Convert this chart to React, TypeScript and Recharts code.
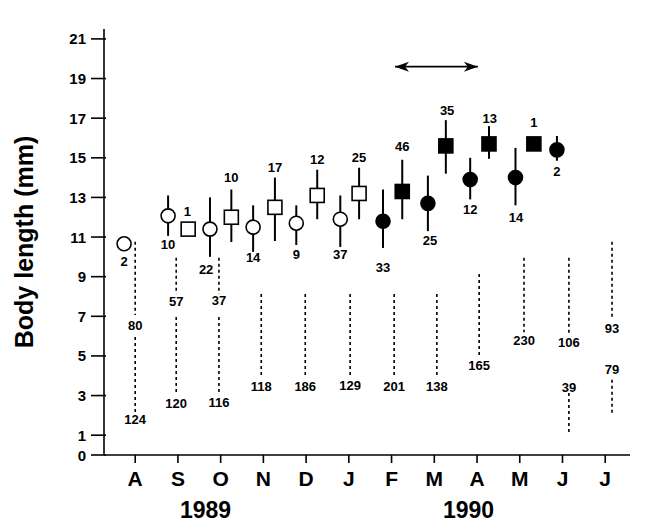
import { ComposedChart, Scatter, XAxis, YAxis, ErrorBar, ReferenceLine, Label } from "recharts";

if (typeof document !== "undefined") document.body.style.margin = "0";

const FONT = "'Liberation Sans', Arial, sans-serif";

// x in months from August 1989 (0 = A, 1 = S, ...), y = body length (mm)
const monthTicks = [0, 1, 2, 3, 4, 5, 6, 7, 8, 9, 10, 11];
const monthLabels = ["A", "S", "O", "N", "D", "J", "F", "M", "A", "M", "J", "J"];
const yTicks = [0, 1, 3, 5, 7, 9, 11, 13, 15, 17, 19, 21];

// [m, mean, low, high]
const openCircles = [
  [-0.26, 10.66, 10.66, 10.66],
  [0.77, 12.07, 11.06, 13.1],
  [1.75, 11.4, 10.0, 13.0],
  [2.76, 11.5, 10.25, 12.6],
  [3.77, 11.7, 10.6, 12.6],
  [4.8, 11.9, 10.5, 13.1],
];
const openSquares = [
  [1.24, 11.4, 11.4, 11.4],
  [2.25, 12.0, 10.75, 13.4],
  [3.27, 12.5, 10.8, 14.0],
  [4.26, 13.1, 11.9, 14.4],
  [5.24, 13.2, 11.9, 14.5],
];
const filledCircles = [
  [5.8, 11.8, 10.45, 13.4],
  [6.85, 12.7, 11.3, 14.1],
  [7.84, 13.9, 12.9, 15.0],
  [8.9, 14.0, 12.6, 15.5],
  [9.87, 15.4, 14.85, 16.1],
];
const filledSquares = [
  [6.25, 13.3, 11.9, 14.9],
  [7.27, 15.6, 14.2, 16.9],
  [8.28, 15.7, 14.95, 16.6],
  [9.33, 15.7, 15.7, 15.7],
];

// sample sizes beside the markers: [m, y, n]
const markerCounts = [
  [-0.26, 9.75, 2], [0.77, 10.6, 10], [1.22, 12.3, 1], [1.66, 9.35, 22],
  [2.25, 14.0, 10], [2.76, 9.95, 14], [3.27, 14.5, 17], [3.77, 10.1, 9],
  [4.26, 14.9, 12], [4.8, 10.1, 37], [5.24, 15.0, 25], [5.8, 9.45, 33],
  [6.25, 15.55, 46], [6.9, 10.85, 25], [7.3, 17.4, 35], [7.84, 12.4, 12],
  [8.3, 17.0, 13], [8.91, 11.97, 14], [9.33, 16.8, 1], [9.87, 14.3, 2],
];

// dotted size ranges: [m, from, to]
const dottedRanges = [
  [0, 10.76, 7.07], [0, 5.96, 2.17],
  [0.96, 9.95, 8.13], [0.96, 6.97, 3.13],
  [1.96, 9.95, 8.13], [1.96, 6.97, 3.13],
  [2.95, 8.13, 3.94], [3.98, 8.13, 3.94], [5.03, 8.13, 3.94],
  [6.06, 8.13, 3.94], [7.06, 8.13, 3.94],
  [8.05, 9.14, 5.0], [9.1, 9.95, 6.2],
  [10.15, 9.95, 6.16], [10.15, 3.13, 1.1],
  [11.16, 10.76, 6.9], [11.16, 3.8, 2.0],
];
const dottedCounts = [
  [0, 6.55, 80], [0, 1.77, 124],
  [0.96, 7.73, 57], [0.96, 2.58, 120],
  [1.96, 7.78, 37], [1.96, 2.63, 116],
  [2.95, 3.48, 118], [3.98, 3.48, 186], [5.03, 3.53, 129],
  [6.06, 3.48, 201], [7.06, 3.48, 138], [8.05, 4.5, 165],
  [9.1, 5.76, 230], [10.15, 5.66, 106], [10.15, 3.43, 39],
  [11.16, 6.4, 93], [11.16, 4.34, 79],
];

const arrow = [
  { m: 6.08, v: 19.6, dir: -1 },
  { m: 8.02, v: 19.6, dir: 1 },
];

const toPts = (rows: number[][]) =>
  rows.map(([m, v, lo, hi]) => ({ m, v, err: [v - lo, hi - v] }));
const toText = (rows: number[][]) => rows.map(([m, v, n]) => ({ m, v, n }));

const circle = (fill: string) => (p: any) => (
  <circle cx={p.cx} cy={p.cy} r={7} fill={fill} stroke="#000" strokeWidth={1.6} />
);
const square = (fill: string) => (p: any) => (
  <rect x={p.cx - 7} y={p.cy - 7} width={14} height={14} fill={fill} stroke="#000" strokeWidth={1.6} />
);
const countText = (p: any) => (
  <text x={p.cx} y={p.cy} textAnchor="middle" dominantBaseline="central"
    fontFamily={FONT} fontWeight="bold" fontSize={13} fill="#000">
    {p.payload.n}
  </text>
);
const arrowHead = (p: any) => {
  const d = p.payload.dir;
  const x = p.cx, y = p.cy;
  return (
    <path d={`M${x},${y} L${x - d * 14},${y - 5} L${x - d * 10},${y} L${x - d * 14},${y + 5} Z`} fill="#000" />
  );
};

const yTick = (p: any) => (
  <g>
    <line x1={p.x - 1} x2={p.x + 14} y1={p.y} y2={p.y} stroke="#000" strokeWidth={1.6} />
    <text x={p.x - 6} y={p.y} textAnchor="end" dominantBaseline="central"
      fontFamily={FONT} fontWeight="bold" fontSize={15} fill="#000">{p.payload.value}</text>
  </g>
);

const err = <ErrorBar dataKey="err" direction="y" width={0} stroke="#000" strokeWidth={2} />;

export default function App() {
  return (
    <div style={{ position: "relative", width: 653, height: 523, background: "#fff" }}>
      <ComposedChart width={653} height={523} margin={{ top: 29, right: 23, bottom: 8, left: 0 }}>
        <XAxis type="number" dataKey="m" domain={[-0.73, 11.58]} ticks={monthTicks} interval={0}
          tickFormatter={(t: number) => monthLabels[t]} allowDataOverflow
          stroke="#000" strokeWidth={1.6} tickSize={8} height={60}
          tick={{ fill: "#000", fontSize: 21, fontWeight: "bold", fontFamily: FONT, dy: 6 }} />
        <YAxis type="number" dataKey="v" domain={[0, 21.5]} ticks={yTicks} interval={0} allowDataOverflow
          stroke="#000" strokeWidth={1.6} tickSize={10} width={104} tickLine={false}
          tick={yTick}>
          <Label value="Body length (mm)" angle={-90} position="insideLeft" offset={24}
            style={{ textAnchor: "middle", fontSize: 25, fontWeight: "bold", fontFamily: FONT, fill: "#000" }} />
        </YAxis>
        {dottedRanges.map(([m, a, b], i) => (
          <ReferenceLine key={i} segment={[{ x: m, y: a }, { x: m, y: b }]}
            stroke="#000" strokeWidth={1.6} strokeDasharray="3 3" />
        ))}
        <Scatter data={toPts(openCircles)} shape={circle("#fff")} isAnimationActive={false}>{err}</Scatter>
        <Scatter data={toPts(openSquares)} shape={square("#fff")} isAnimationActive={false}>{err}</Scatter>
        <Scatter data={toPts(filledCircles)} shape={circle("#000")} isAnimationActive={false}>{err}</Scatter>
        <Scatter data={toPts(filledSquares)} shape={square("#000")} isAnimationActive={false}>{err}</Scatter>
        <Scatter data={toText(markerCounts)} shape={countText} isAnimationActive={false} />
        <Scatter data={toText(dottedCounts)} shape={countText} isAnimationActive={false} />
        <Scatter data={arrow} shape={arrowHead} line={{ stroke: "#000", strokeWidth: 1.6 }} isAnimationActive={false} />
      </ComposedChart>
      <div style={{ position: "absolute", left: 180, top: 497, fontFamily: FONT, fontWeight: "bold", fontSize: 23 }}>1989</div>
      <div style={{ position: "absolute", left: 443, top: 497, fontFamily: FONT, fontWeight: "bold", fontSize: 23 }}>1990</div>
    </div>
  );
}
